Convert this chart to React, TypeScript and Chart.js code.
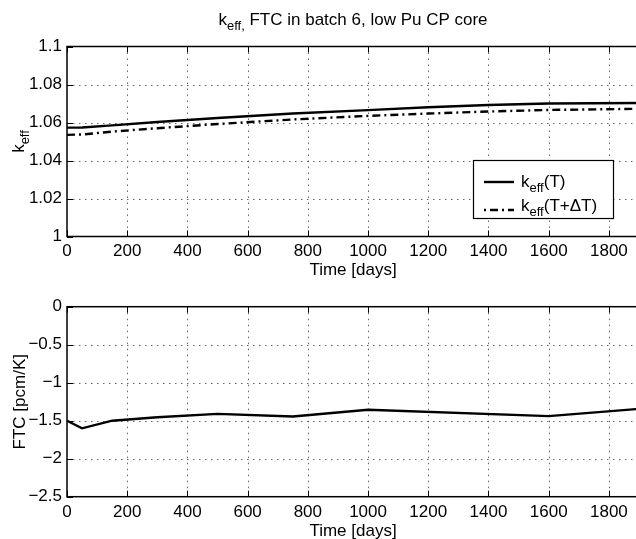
import { useEffect, useRef } from "react";
import { Chart, registerables } from "chart.js";

Chart.register(...registerables);

// ---- data ----
const days = [0, 50, 150, 300, 500, 750, 1000, 1200, 1400, 1600, 1900];
const keffT = [1.0573, 1.0574, 1.0585, 1.0603, 1.0624, 1.0647, 1.0665, 1.068, 1.0692, 1.07, 1.0703];
const keffTdT = [1.0535, 1.0537, 1.0552, 1.057, 1.0592, 1.0616, 1.0635, 1.0647, 1.0658, 1.0666, 1.0672];
const ftcDays = [0, 50, 150, 300, 500, 750, 1000, 1600, 1900];
const ftcValues = [-1.5, -1.6, -1.5, -1.455, -1.41, -1.445, -1.355, -1.44, -1.345];
const xTicks = [0, 200, 400, 600, 800, 1000, 1200, 1400, 1600, 1800];
const keffTicks = [1, 1.02, 1.04, 1.06, 1.08, 1.1];
const ftcTicks = [-2.5, -2, -1.5, -1, -0.5, 0];

const titleText = " FTC in batch 6, low Pu CP core";
const xTitle = "Time [days]";
const ftcTitle = "FTC [pcm/K]";
const legendLabels = ["(T)", "(T+\u0394T)"];

const FONT = "'Liberation Sans', Arial, Helvetica, sans-serif";
const DASHDOT = [8, 4, 2, 4];

type Part = [string, boolean];

function drawParts(
  ctx: CanvasRenderingContext2D,
  parts: Part[],
  x: number,
  y: number,
  align: "left" | "center",
  size = 17,
  subSize = 13,
  subDy = 5
) {
  ctx.textBaseline = "alphabetic";
  ctx.textAlign = "left";
  ctx.fillStyle = "#000";
  let w = 0;
  for (const [t, s] of parts) {
    ctx.font = `${s ? subSize : size}px ${FONT}`;
    w += ctx.measureText(t).width;
  }
  let cx = align === "center" ? x - w / 2 : x;
  for (const [t, s] of parts) {
    ctx.font = `${s ? subSize : size}px ${FONT}`;
    ctx.fillText(t, cx, s ? y + subDy : y);
    cx += ctx.measureText(t).width;
  }
}

function makeDecor(xt: number[], yt: number[], texts: (ctx: CanvasRenderingContext2D) => void) {
  return {
    id: "decor",
    beforeDatasetsDraw(chart: any) {
      const ctx: CanvasRenderingContext2D = chart.ctx;
      const a = chart.chartArea;
      const xs = chart.scales.x;
      const ys = chart.scales.y;
      ctx.save();
      ctx.strokeStyle = "#666";
      ctx.lineWidth = 1;
      ctx.setLineDash([1.5, 4.5]);
      for (const v of xt) {
        const px = Math.round(xs.getPixelForValue(v)) + 0.5;
        if (Math.abs(px - a.left) < 2) continue;
        ctx.beginPath();
        ctx.moveTo(px, a.top);
        ctx.lineTo(px, a.bottom);
        ctx.stroke();
      }
      for (const v of yt) {
        const py = Math.round(ys.getPixelForValue(v)) + 0.5;
        if (Math.abs(py - a.top) < 2 || Math.abs(py - a.bottom) < 2) continue;
        ctx.beginPath();
        ctx.moveTo(a.left, py);
        ctx.lineTo(a.right, py);
        ctx.stroke();
      }
      ctx.restore();
    },
    afterDatasetsDraw(chart: any) {
      const ctx: CanvasRenderingContext2D = chart.ctx;
      const a = chart.chartArea;
      const xs = chart.scales.x;
      const ys = chart.scales.y;
      ctx.save();
      ctx.setLineDash([]);
      ctx.strokeStyle = "#000";
      ctx.lineWidth = 1.5;
      ctx.strokeRect(a.left, a.top, a.right - a.left, a.bottom - a.top);
      ctx.lineWidth = 1;
      for (const v of xt) {
        const px = Math.round(xs.getPixelForValue(v)) + 0.5;
        ctx.beginPath();
        ctx.moveTo(px, a.bottom);
        ctx.lineTo(px, a.bottom - 6);
        ctx.moveTo(px, a.top);
        ctx.lineTo(px, a.top + 6);
        ctx.stroke();
      }
      for (const v of yt) {
        const py = Math.round(ys.getPixelForValue(v)) + 0.5;
        ctx.beginPath();
        ctx.moveTo(a.left, py);
        ctx.lineTo(a.left + 6, py);
        ctx.stroke();
      }
      ctx.restore();
    },
    afterDraw(chart: any) {
      const ctx: CanvasRenderingContext2D = chart.ctx;
      ctx.save();
      texts(ctx);
      ctx.restore();
    },
  };
}

function baseScales(
  yMin: number,
  yMax: number,
  yt: number[],
  xHeight: number,
  yFmt: (v: number) => string
) {
  return {
    x: {
      type: "linear",
      min: 0,
      max: 1900,
      afterBuildTicks: (s: any) => {
        s.ticks = xTicks.map((v) => ({ value: v }));
      },
      afterFit: (s: any) => {
        s.height = xHeight;
      },
      grid: { display: false, drawTicks: false, tickLength: 0 },
      border: { display: false },
      ticks: {
        color: "#000",
        font: { size: 17, family: FONT },
        padding: 5,
        maxRotation: 0,
        autoSkip: false,
        callback: (v: any) => String(v),
      },
    },
    y: {
      type: "linear",
      min: yMin,
      max: yMax,
      afterBuildTicks: (s: any) => {
        s.ticks = yt.map((v) => ({ value: v }));
      },
      afterFit: (s: any) => {
        s.width = 67;
      },
      grid: { display: false, drawTicks: false, tickLength: 0 },
      border: { display: false },
      ticks: {
        color: "#000",
        font: { size: 17, family: FONT },
        padding: 5,
        autoSkip: false,
        callback: (v: any) => yFmt(Number(v)),
      },
    },
  };
}

export default function App() {
  const topRef = useRef<HTMLCanvasElement>(null);
  const botRef = useRef<HTMLCanvasElement>(null);

  useEffect(() => {
    const topDecor = makeDecor(xTicks, keffTicks, (ctx) => {
      // title
      drawParts(ctx, [["k", false], ["eff,", true], [titleText, false]], 353, 25, "center");
      // x title
      drawParts(ctx, [[xTitle, false]], 353, 275, "center");
      // y title (rotated)
      ctx.save();
      ctx.translate(24, 141.5);
      ctx.rotate(-Math.PI / 2);
      drawParts(ctx, [["k", false], ["eff", true]], 0, 0, "center");
      ctx.restore();
      // legend
      ctx.fillStyle = "#fff";
      ctx.fillRect(473.5, 160.5, 140, 58);
      ctx.strokeStyle = "#000";
      ctx.lineWidth = 1.2;
      ctx.setLineDash([]);
      ctx.strokeRect(473.5, 160.5, 140, 58);
      ctx.lineWidth = 2.4;
      ctx.beginPath();
      ctx.moveTo(484, 182);
      ctx.lineTo(514, 182);
      ctx.stroke();
      ctx.setLineDash([2, 4, 8, 4]);
      ctx.beginPath();
      ctx.moveTo(484, 210);
      ctx.lineTo(514, 210);
      ctx.stroke();
      ctx.setLineDash([]);
      drawParts(ctx, [["k", false], ["eff", true], [legendLabels[0], false]], 521, 187, "left");
      drawParts(ctx, [["k", false], ["eff", true], [legendLabels[1], false]], 521, 211, "left");
    });

    const top = new Chart(topRef.current as HTMLCanvasElement, {
      type: "line",
      data: {
        datasets: [
          {
            label: "keff(T)",
            data: days.map((d, i) => ({ x: d, y: keffT[i] })),
            borderColor: "#000",
            borderWidth: 2.4,
            pointRadius: 0,
            fill: false,
            tension: 0,
          },
          {
            label: "keff(T+\u0394T)",
            data: days.map((d, i) => ({ x: d, y: keffTdT[i] })),
            borderColor: "#000",
            borderWidth: 2.4,
            borderDash: DASHDOT,
            pointRadius: 0,
            fill: false,
            tension: 0,
          },
        ],
      },
      options: {
        animation: false,
        responsive: false,
        devicePixelRatio: 1,
        layout: { padding: { top: 46.5, right: 3, left: 0, bottom: 0 } },
        plugins: { legend: { display: false }, tooltip: { enabled: false }, title: { display: false } },
        scales: baseScales(1, 1.1, keffTicks, 285 - 236.5, (v) => String(Math.round(v * 100) / 100)) as any,
      },
      plugins: [topDecor],
    } as any);

    const botDecor = makeDecor(xTicks, ftcTicks, (ctx) => {
      drawParts(ctx, [[xTitle, false]], 353, 251, "center");
      ctx.save();
      ctx.translate(25, 116.7);
      ctx.rotate(-Math.PI / 2);
      drawParts(ctx, [[ftcTitle, false]], 0, 0, "center");
      ctx.restore();
    });

    const bot = new Chart(botRef.current as HTMLCanvasElement, {
      type: "line",
      data: {
        datasets: [
          {
            label: "FTC",
            data: ftcDays.map((d, i) => ({ x: d, y: ftcValues[i] })),
            borderColor: "#000",
            borderWidth: 2.4,
            pointRadius: 0,
            fill: false,
            tension: 0,
          },
        ],
      },
      options: {
        animation: false,
        responsive: false,
        devicePixelRatio: 1,
        layout: { padding: { top: 21.7, right: 3, left: 0, bottom: 0 } },
        plugins: { legend: { display: false }, tooltip: { enabled: false }, title: { display: false } },
        scales: baseScales(-2.5, 0, ftcTicks, 254 - 211.7, (v) =>
          v < 0 ? "\u2212" + String(-v) : String(v)
        ) as any,
      },
      plugins: [botDecor],
    } as any);

    return () => {
      top.destroy();
      bot.destroy();
    };
  }, []);

  return (
    <div
      style={{
        position: "fixed",
        left: 0,
        top: 0,
        width: 636,
        height: 539,
        overflow: "hidden",
        background: "#fff",
      }}
    >
      <canvas ref={topRef} width={642} height={285} style={{ display: "block", width: 642, height: 285 }} />
      <canvas ref={botRef} width={642} height={254} style={{ display: "block", width: 642, height: 254 }} />
    </div>
  );
}
